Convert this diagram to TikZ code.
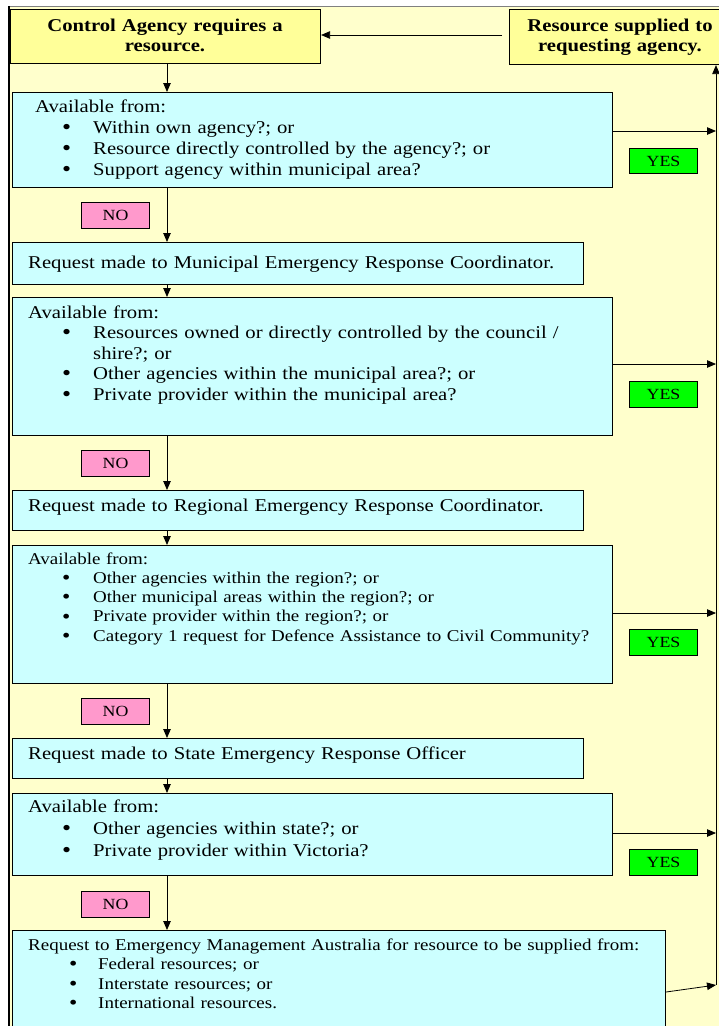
\documentclass[tikz,border=0pt]{standalone}
\usepackage{fontspec}
\setmainfont{Liberation Serif}[FakeStretch=1.15]
\usetikzlibrary{arrows.meta}

\definecolor{pagebg}{HTML}{FFFFCC}
\definecolor{headfill}{HTML}{FFFF99}
\definecolor{askfill}{HTML}{CCFFFF}
\definecolor{yesfill}{HTML}{00FF00}
\definecolor{nofill}{HTML}{FF99CC}

% bullet line: #1 bullet offset, #2 text offset, #3 text
\newcommand\bitem[3]{\par\makebox[#2][l]{\hspace*{#1}\raisebox{-1.4pt}{\scalebox{1.25}{\textbullet}}}#3}

\tikzset{
  box/.style={draw=black, line width=1.1pt, anchor=north west, inner sep=0pt},
  headbox/.style={box, fill=headfill},
  askbox/.style={box, fill=askfill},
  yesbox/.style={box, fill=yesfill, minimum width=68pt, minimum height=25pt,
    font=\fontsize{15.5}{18}\selectfont},
  nobox/.style={box, fill=nofill, minimum width=68pt, minimum height=26pt,
    font=\fontsize{15.5}{18}\selectfont},
  body/.style={anchor=base west, inner sep=0pt, align=left, text width=#1},
  body/.default=600pt,
  headtxt/.style={anchor=base, inner sep=0pt, align=center, text width=#1,
    font=\bfseries\fontsize{18}{20}\selectfont},
  arr/.style={line width=0.8pt, -{Triangle[length=9pt,width=7.5pt]}},
}

\begin{document}
\begin{tikzpicture}[x=1pt, y=-1pt]
\useasboundingbox (0,0) rectangle (719,1026);
\clip (0,0) rectangle (719,1026);
\fill[white] (0,0) rectangle (719,1026);
\fill[pagebg] (9,6) rectangle (719,1026);
\draw[gray, line width=1pt] (9,6) -- (719,6);
\draw[black, line width=1.4pt] (9,6) -- (9,1026);

\coordinate (spine) at (167,0);
\coordinate (rail) at (716,0);

% header boxes
\node[headbox, minimum width=310pt, minimum height=54pt] (start) at (10,9) {};
\node[headtxt=300pt] (starttxt) at (165,31)
  {Control Agency requires a\\resource.};
\node[headbox, minimum width=222pt, minimum height=55pt] (done) at (509,9) {};
\node[headtxt=220pt] (donetxt) at (620,31)
  {Resource supplied to\\requesting agency.};

% stage 1
\node[askbox, minimum width=600pt, minimum height=95pt] (ask1) at (12,92) {};
\node[body, font=\fontsize{18}{21}\selectfont] (ask1txt) at (35,112)
  {Available from:
   \bitem{27pt}{58pt}{Within own agency?; or}
   \bitem{27pt}{58pt}{Resource directly controlled by the agency?; or}
   \bitem{27pt}{58pt}{Support agency within municipal area?}};
\node[yesbox] (yes1) at (629,148) {YES};
\node[nobox] (no1) at (81,202) {NO};

% stage 2
\node[askbox, minimum width=571pt, minimum height=42pt] (req1) at (12,242) {};
\node[body, font=\fontsize{18}{21}\selectfont] (req1txt) at (28,268)
  {Request made to Municipal Emergency Response Coordinator.};
\node[askbox, minimum width=600pt, minimum height=138pt] (ask2) at (12,297) {};
\node[body, font=\fontsize{18}{20.5}\selectfont] (ask2txt) at (28,318)
  {Available from:
   \bitem{34pt}{65pt}{Resources owned or directly controlled by the council /}
   \par\hspace*{65pt}shire?; or
   \bitem{34pt}{65pt}{Other agencies within the municipal area?; or}
   \bitem{34pt}{65pt}{Private provider within the municipal area?}};
\node[yesbox, minimum height=26pt] (yes2) at (629,381) {YES};
\node[nobox] (no2) at (81,450) {NO};

% stage 3
\node[askbox, minimum width=571pt, minimum height=40pt] (req2) at (12,490) {};
\node[body, font=\fontsize{18}{21}\selectfont] (req2txt) at (28,511)
  {Request made to Regional Emergency Response Coordinator.};
\node[askbox, minimum width=600pt, minimum height=138pt] (ask3) at (12,545) {};
\node[body, font=\fontsize{16.5}{19.25}\selectfont] (ask3txt) at (28,564)
  {Available from:
   \bitem{34pt}{65pt}{Other agencies within the region?; or}
   \bitem{34pt}{65pt}{Other municipal areas within the region?; or}
   \bitem{34pt}{65pt}{Private provider within the region?; or}
   \bitem{34pt}{65pt}{Category 1 request for Defence Assistance to Civil Community?}};
\node[yesbox, minimum height=26pt] (yes3) at (629,629) {YES};
\node[nobox] (no3) at (81,698) {NO};

% stage 4
\node[askbox, minimum width=571pt, minimum height=40pt] (req3) at (12,738) {};
\node[body, font=\fontsize{18}{21}\selectfont] (req3txt) at (28,759)
  {Request made to State Emergency Response Officer};
\node[askbox, minimum width=600pt, minimum height=82pt] (ask4) at (12,793) {};
\node[body, font=\fontsize{18}{22}\selectfont] (ask4txt) at (28,812)
  {Available from:
   \bitem{34pt}{65pt}{Other agencies within state?; or}
   \bitem{34pt}{65pt}{Private provider within Victoria?}};
\node[yesbox, minimum height=26pt] (yes4) at (629,849) {YES};
\node[nobox] (no4) at (81,891) {NO};

% final escalation
\node[askbox, minimum width=653pt, minimum height=110pt] (ask5) at (12,930) {};
\node[body=640pt, font=\fontsize{16.5}{19.5}\selectfont] (ask5txt) at (28,950)
  {Request to Emergency Management Australia for resource to be supplied from:
   \bitem{41pt}{70pt}{Federal resources; or}
   \bitem{41pt}{70pt}{Interstate resources; or}
   \bitem{41pt}{70pt}{International resources.}};

% downward flow
\draw[arr] (start.south -| spine) -- (ask1.north -| spine);
\draw[arr] (ask1.south -| spine) -- (req1.north -| spine);
\draw[arr] (req1.south -| spine) -- (ask2.north -| spine);
\draw[arr] (ask2.south -| spine) -- (req2.north -| spine);
\draw[arr] (req2.south -| spine) -- (ask3.north -| spine);
\draw[arr] (ask3.south -| spine) -- (req3.north -| spine);
\draw[arr] (req3.south -| spine) -- (ask4.north -| spine);
\draw[arr] (ask4.south -| spine) -- (ask5.north -| spine);

% YES branches to the supply rail
\draw[arr] ([yshift=-39pt]ask1.north east) -- ([yshift=-39pt]ask1.north east -| rail);
\draw[arr] ([yshift=-67pt]ask2.north east) -- ([yshift=-67pt]ask2.north east -| rail);
\draw[arr] ([yshift=-68pt]ask3.north east) -- ([yshift=-68pt]ask3.north east -| rail);
\draw[arr] ([yshift=-40pt]ask4.north east) -- ([yshift=-40pt]ask4.north east -| rail);
\coordinate (railfoot) at (716,985);
\draw[arr] ([yshift=-62pt]ask5.north east) -- (railfoot);
\draw[arr] (railfoot) -- (done.south -| rail);
\draw[arr] (done.west |- 0,35) ++(-7,0) -- (start.east |- 0,35);
\end{tikzpicture}
\end{document}
